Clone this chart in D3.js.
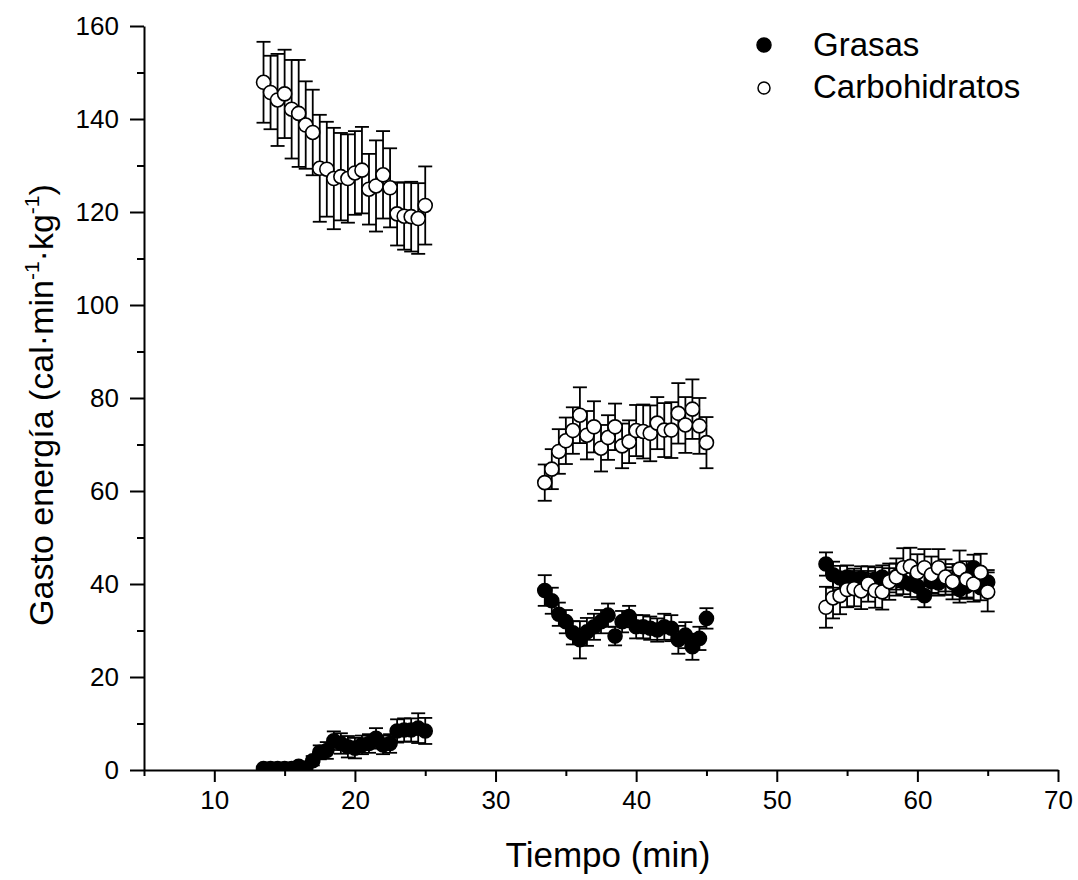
<!DOCTYPE html>
<html>
<head>
<meta charset="utf-8">
<script src="https://cdn.jsdelivr.net/npm/d3@7"></script>
<style>
  body { margin: 0; background: #fff; }
  svg { display: block; font-family: Arial, "Liberation Sans", sans-serif; }
</style>
</head>
<body>
<div id="chart"></div>
<script>
// DATA

// time points (min) of the three stages
const tiempo1 = [13.5, 14, 14.5, 15, 15.5, 16, 16.5, 17, 17.5, 18, 18.5, 19, 19.5, 20, 20.5, 21, 21.5, 22, 22.5, 23, 23.5, 24, 24.5, 25];
const tiempo2 = [33.5, 34, 34.5, 35, 35.5, 36, 36.5, 37, 37.5, 38, 38.5, 39, 39.5, 40, 40.5, 41, 41.5, 42, 42.5, 43, 43.5, 44, 44.5, 45];
const tiempo3 = [53.5, 54, 54.5, 55, 55.5, 56, 56.5, 57, 57.5, 58, 58.5, 59, 59.5, 60, 60.5, 61, 61.5, 62, 62.5, 63, 63.5, 64, 64.5, 65];

// fats (filled circles), mean and error
const grasas1 = [0.3, 0.3, 0.3, 0.3, 0.3, 0.8, 0.4, 2.0, 3.8, 4.2, 6.3, 5.7, 5.0, 4.7, 5.4, 5.7, 6.8, 5.4, 5.7, 8.4, 8.6, 8.6, 9.0, 8.4];
const grasasErr1 = [0.2, 0.2, 0.2, 0.2, 0.3, 0.4, 0.4, 1.0, 1.5, 1.8, 2.0, 2.2, 2.3, 2.2, 2.0, 2.0, 2.2, 2.0, 2.0, 2.5, 2.5, 2.5, 3.2, 2.8];
const grasas2 = [38.6, 36.4, 33.5, 31.9, 29.5, 28.0, 29.7, 30.8, 31.9, 33.3, 28.8, 31.9, 33.0, 30.8, 30.8, 30.5, 30.1, 30.8, 30.5, 28.0, 29.0, 26.5, 28.3, 32.6];
const grasasErr2 = [3.3, 2.8, 2.5, 2.5, 2.5, 4.0, 3.0, 2.8, 2.5, 2.5, 2.0, 2.3, 2.3, 2.5, 2.5, 2.5, 2.5, 2.8, 2.8, 3.0, 2.8, 2.8, 2.5, 2.2];
const grasas3 = [44.3, 42.0, 41.3, 41.5, 40.8, 41.2, 40.3, 41.0, 41.5, 40.8, 41.6, 40.5, 40.0, 39.5, 37.5, 40.5, 40.2, 41.0, 40.3, 38.8, 39.5, 43.5, 39.2, 40.4];
const grasasErr3 = [2.5, 2.8, 2.6, 2.5, 2.5, 2.6, 2.5, 2.6, 2.5, 2.6, 2.8, 2.7, 2.8, 2.8, 2.5, 2.6, 2.7, 2.6, 2.6, 2.8, 2.7, 2.8, 2.7, 2.6];

// carbohydrates (open circles), mean and error
const carbo1 = [147.9, 145.7, 144.1, 145.4, 142.1, 141.2, 138.7, 137.1, 129.4, 129.2, 127.2, 127.6, 127.2, 128.4, 129.0, 124.9, 125.6, 128.0, 125.2, 119.6, 119.1, 119.0, 118.6, 121.4];
const carboErr1 = [8.7, 7.9, 9.9, 9.5, 10.6, 11.5, 9.4, 9.2, 11.5, 10.2, 10.9, 9.4, 9.5, 9.0, 9.3, 7.6, 9.8, 9.4, 8.5, 6.8, 7.2, 7.5, 7.6, 8.4];
const carbo2 = [61.8, 64.7, 68.5, 70.8, 73.0, 76.3, 72.0, 73.8, 69.2, 71.5, 73.8, 69.7, 70.6, 73.0, 72.8, 72.4, 74.6, 73.1, 73.1, 76.7, 74.2, 77.6, 74.0, 70.4];
const carboErr2 = [3.9, 4.3, 4.8, 5.0, 5.0, 6.0, 5.2, 5.5, 5.0, 4.8, 5.0, 4.8, 4.6, 5.5, 5.8, 6.0, 5.6, 5.8, 6.0, 6.5, 6.0, 6.4, 6.0, 5.5];
const carbo3 = [35.0, 37.0, 37.5, 38.8, 39.0, 38.5, 40.0, 38.6, 38.3, 40.5, 41.5, 43.5, 43.8, 42.5, 43.5, 42.0, 43.5, 41.5, 40.5, 43.2, 41.0, 40.0, 42.5, 38.3];
const carboErr3 = [4.4, 4.4, 4.0, 3.8, 3.8, 3.9, 3.8, 3.7, 3.8, 3.9, 4.0, 4.2, 4.0, 3.9, 4.0, 3.9, 4.0, 3.8, 3.8, 4.0, 3.9, 3.8, 4.0, 4.2];

// axis ticks and texts
const xTicks = [10, 20, 30, 40, 50, 60, 70];
const xMinor = [5, 15, 25, 35, 45, 55, 65];
const yTicks = [0, 20, 40, 60, 80, 100, 120, 140, 160];
const yMinor = [10, 30, 50, 70, 90, 110, 130, 150];
const series = ["Grasas", "Carbohidratos"];

// join the three stages of each series into one list of points
function join(values, errors) {
  const times = [tiempo1, tiempo2, tiempo3];
  const out = [];
  times.forEach((t, k) => {
    t.forEach((d, i) => out.push({ t: d, v: values[k][i], e: errors[k][i] }));
  });
  return out;
}
const grasas = join([grasas1, grasas2, grasas3], [grasasErr1, grasasErr2, grasasErr3]);
const carbo = join([carbo1, carbo2, carbo3], [carboErr1, carboErr2, carboErr3]);


// SVG AND SCALES

const w = 1078, h = 880;

const svg = d3
  .select("#chart")
  .append("svg")
  .attr("width", w)
  .attr("height", h);

svg.append("rect")
  .attr("width", w)
  .attr("height", h)
  .attr("fill", "#fff");

const x = d3.scaleLinear().domain([5, 70]).range([144, 1058]);
const y = d3.scaleLinear().domain([0, 160]).range([770, 26]);

// clip everything below the x axis (points at zero are cut in half)
svg.append("clipPath")
  .attr("id", "plot")
  .append("rect")
  .attr("x", x(5))
  .attr("y", 0)
  .attr("width", x(70) - x(5) + 10)
  .attr("height", y(0));


// AXES

// minor ticks first, without labels
svg.append("g")
  .attr("transform", `translate(0, ${y(0)})`)
  .call(d3.axisBottom(x).tickValues(xMinor).tickSize(6).tickSizeOuter(0).tickFormat(""))
  .call(g => g.select(".domain").remove());

svg.append("g")
  .attr("transform", `translate(${x(5)}, 0)`)
  .call(d3.axisLeft(y).tickValues(yMinor).tickSize(7).tickSizeOuter(0).tickFormat(""))
  .call(g => g.select(".domain").remove());

svg.append("g")
  .attr("transform", `translate(0, ${y(0)})`)
  .call(d3.axisBottom(x).tickValues(xTicks).tickSize(12).tickSizeOuter(0).tickPadding(9));

svg.append("g")
  .attr("transform", `translate(${x(5)}, 0)`)
  .call(d3.axisLeft(y).tickValues(yTicks).tickSize(14).tickSizeOuter(0).tickPadding(11));

svg.selectAll(".tick line").attr("stroke", "#000").attr("stroke-width", 2);
svg.selectAll(".domain").attr("stroke", "#000").attr("stroke-width", 2);
svg.selectAll(".tick text")
  .attr("fill", "#000")
  .style("font-size", "26px")
  .style("font-family", "Arial, 'Liberation Sans', sans-serif");

// axis titles
svg.append("text")
  .attr("x", 608)
  .attr("y", 867)
  .attr("text-anchor", "middle")
  .style("font-size", "35px")
  .text("Tiempo (min)");

const yTitle = svg.append("text")
  .attr("transform", "translate(53, 405) rotate(-90)")
  .attr("text-anchor", "middle")
  .style("font-size", "34px");
yTitle.append("tspan").text("Gasto energía (cal·min");
yTitle.append("tspan").attr("dy", -14).style("font-size", "21px").text("-1");
yTitle.append("tspan").attr("dy", 14).text("·kg");
yTitle.append("tspan").attr("dy", -14).style("font-size", "21px").text("-1");
yTitle.append("tspan").attr("dy", 14).text(")");


// POINTS WITH ERROR BARS

const plot = svg.append("g").attr("clip-path", "url(#plot)");
const cap = 7, r = 7;

function draw(data, filled) {
  const g = plot.append("g");

  // vertical bars
  g.selectAll("line.bar")
    .data(data)
    .enter()
    .append("line")
    .attr("x1", d => x(d.t))
    .attr("x2", d => x(d.t))
    .attr("y1", d => y(d.v - d.e))
    .attr("y2", d => y(d.v + d.e))
    .attr("stroke", "#000")
    .attr("stroke-width", 1.8);

  // caps at top and bottom
  ["top", "bottom"].forEach(side => {
    g.selectAll("line." + side)
      .data(data)
      .enter()
      .append("line")
      .attr("x1", d => x(d.t) - cap)
      .attr("x2", d => x(d.t) + cap)
      .attr("y1", d => y(side == "top" ? d.v + d.e : d.v - d.e))
      .attr("y2", d => y(side == "top" ? d.v + d.e : d.v - d.e))
      .attr("stroke", "#000")
      .attr("stroke-width", 1.8);
  });

  g.selectAll("circle")
    .data(data)
    .enter()
    .append("circle")
    .attr("cx", d => x(d.t))
    .attr("cy", d => y(d.v))
    .attr("r", r)
    .attr("fill", filled ? "#000" : "#fff")
    .attr("stroke", "#000")
    .attr("stroke-width", 1.6);
}

draw(grasas, true);
draw(carbo, false);


// LEGEND

const legend = svg.append("g");
legend.selectAll("circle")
  .data(series)
  .enter()
  .append("circle")
  .attr("cx", 764)
  .attr("cy", (d, i) => 45 + i * 43)
  .attr("r", (d, i) => i == 0 ? 7 : 6)
  .attr("fill", (d, i) => i == 0 ? "#000" : "#fff")
  .attr("stroke", "#000")
  .attr("stroke-width", 1.5);

legend.selectAll("text")
  .data(series)
  .enter()
  .append("text")
  .attr("x", 813)
  .attr("y", (d, i) => 56 + i * 42)
  .style("font-size", "33px")
  .text(d => d);
</script>
</body>
</html>
